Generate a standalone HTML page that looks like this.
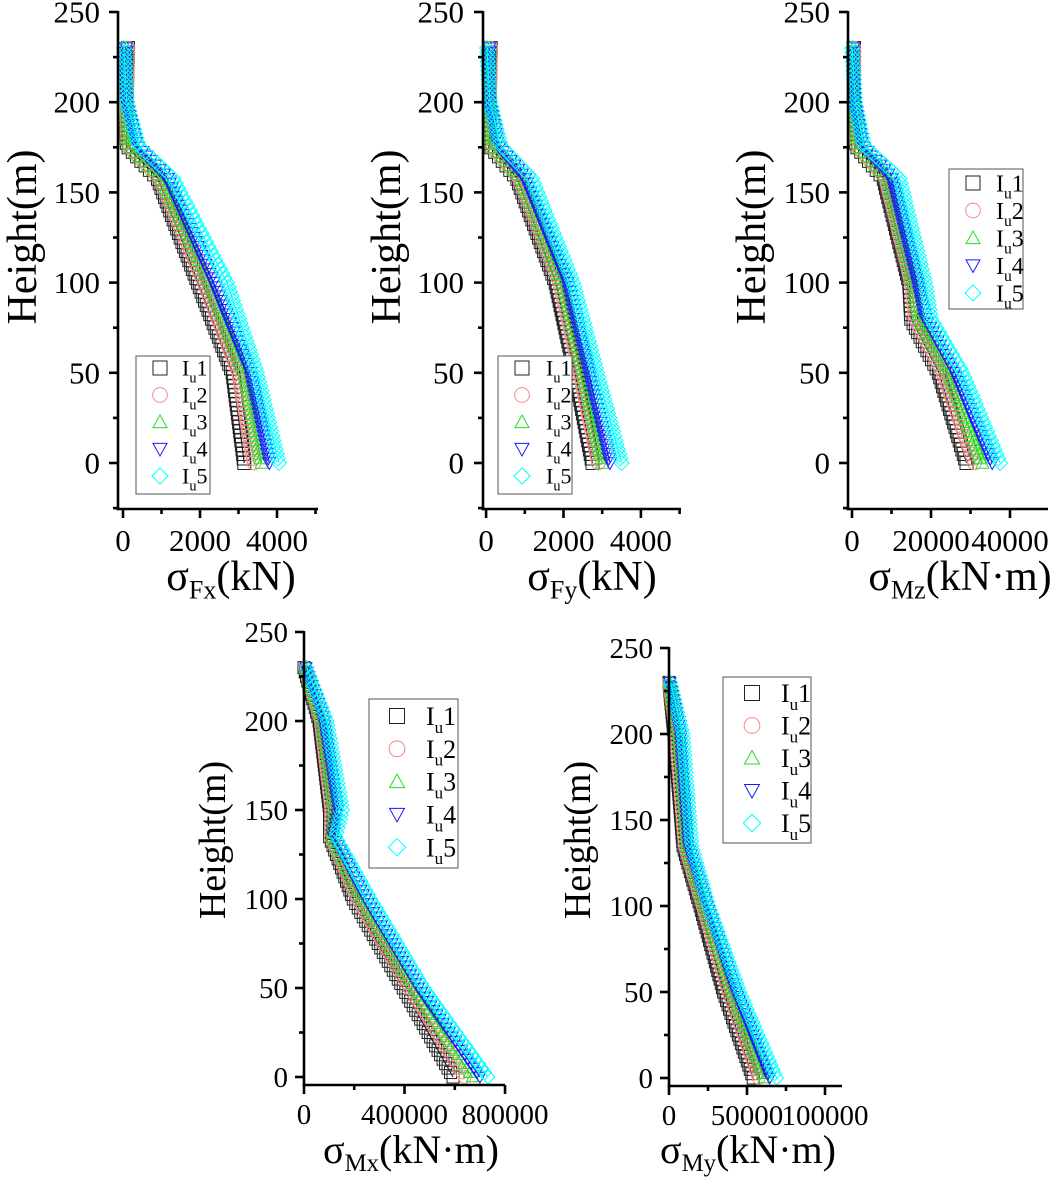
<!DOCTYPE html>
<html><head><meta charset="utf-8"><title>Stdev profiles</title>
<style>
html,body{margin:0;padding:0;background:#fff;}
svg{display:block;font-family:"Liberation Serif",serif;}
</style></head>
<body>
<svg id="fig" width="1052" height="1181" viewBox="0 0 1052 1181" xmlns="http://www.w3.org/2000/svg"></svg>
<script>
// ---- data (heights in m) ----
const seriesNames = ["Iu1","Iu2","Iu3","Iu4","Iu5"];
// Panel 1: sigma Fx (kN)
const fxHeights = [0, 50, 100, 158, 176, 200, 231];
const fxIu1 = [3150, 2850, 1950, 900, 100, 90, 130];
const fxIu2 = [3400, 3000, 2100, 950, 120, 90, 130];
const fxIu3 = [3600, 3150, 2250, 1000, 150, 90, 100];
const fxIu4 = [3800, 3300, 2350, 1150, 350, 90, 80];
const fxIu5 = [4050, 3480, 2700, 1300, 400, 100, 20];
// Panel 2: sigma Fy (kN)
const fyHeights = [0, 50, 100, 158, 176, 200, 231];
const fyIu1 = [2750, 2300, 1800, 800, 100, 90, 120];
const fyIu2 = [2900, 2420, 1900, 850, 120, 90, 120];
const fyIu3 = [3000, 2520, 1980, 900, 150, 90, 100];
const fyIu4 = [3200, 2650, 2100, 1000, 300, 90, 80];
const fyIu5 = [3500, 2870, 2250, 1180, 380, 100, 20];
// Panel 3: sigma Mz (kN·m)
const mzHeights = [0, 50, 80, 100, 158, 176, 200, 231];
const mzIu1 = [29000, 22000, 15000, 14500, 8000, 1000, 500, 500];
const mzIu2 = [31000, 23000, 16000, 15000, 8500, 1200, 500, 500];
const mzIu3 = [33000, 24500, 17000, 15500, 9000, 1500, 500, 300];
const mzIu4 = [35500, 26000, 18500, 16500, 10000, 2500, 600, 300];
const mzIu5 = [37500, 28000, 20000, 18500, 12000, 3000, 800, 0];
// Panel 4: sigma Mx (kN·m)
const mxHeights = [0, 50, 100, 135, 150, 200, 230];
const mxIu1 = [593000, 395000, 196000, 102000, 102000, 60000, 0];
const mxIu2 = [640000, 420000, 212000, 106000, 108000, 66000, 3000];
const mxIu3 = [670000, 438000, 228000, 110000, 118000, 72000, 5000];
const mxIu4 = [700000, 455000, 245000, 116000, 135000, 80000, 8000];
const mxIu5 = [732000, 478000, 266000, 127000, 154000, 92000, 10000];
// Panel 5: sigma My (kN·m)
const myHeights = [0, 50, 100, 135, 200, 230];
const myIu1 = [54000, 35000, 20000, 9000, 3200, 0];
const myIu2 = [57500, 38000, 21500, 10000, 4500, 0];
const myIu3 = [61000, 40500, 23000, 11200, 5800, 300];
const myIu4 = [64500, 43000, 24300, 12500, 7200, 600];
const myIu5 = [69000, 45500, 25600, 14700, 9000, 1000];
// tick label values
const fTicks = [0, 2000, 4000];
const mzTicks = [0, 20000, 40000];
const mxTicks = [0, 400000, 800000];
const myTicks = [0, 50000, 100000];
const hTicks = [0, 50, 100, 150, 200, 250];
</script>
<script>
const NS = "http://www.w3.org/2000/svg";
const svg = document.getElementById("fig");
const colors = ["#222222", "#f28a8a", "#22dd22", "#1a1aff", "#00ffff"];
const shapes = ["square", "circle", "up", "down", "diamond"];

function mk(tag, attrs, parent) {
  const e = document.createElementNS(NS, tag);
  for (const k in attrs) e.setAttribute(k, attrs[k]);
  (parent || svg).appendChild(e);
  return e;
}
function marker(g, shape, x, y, s, col) {
  const h = s / 2;
  let e;
  if (shape === "square") e = mk("rect", {x: x - h, y: y - h, width: s, height: s}, g);
  else if (shape === "circle") e = mk("circle", {cx: x, cy: y, r: h * 1.05}, g);
  else if (shape === "up") e = mk("polygon", {points: `${x},${y - h} ${x + h},${y + h * 0.8} ${x - h},${y + h * 0.8}`}, g);
  else if (shape === "down") e = mk("polygon", {points: `${x},${y + h} ${x + h},${y - h * 0.8} ${x - h},${y - h * 0.8}`}, g);
  else e = mk("polygon", {points: `${x},${y - h * 1.15} ${x + h * 1.15},${y} ${x},${y + h * 1.15} ${x - h * 1.15},${y}`}, g);
  e.setAttribute("fill", "none");
  e.setAttribute("stroke", col);
  e.setAttribute("stroke-width", "1");
  return e;
}
function interp(hs, vs, h) {
  for (let i = 0; i < hs.length - 1; i++) {
    if (h >= hs[i] && h <= hs[i + 1]) {
      const t = (h - hs[i]) / (hs[i + 1] - hs[i]);
      return vs[i] + t * (vs[i + 1] - vs[i]);
    }
  }
  return vs[vs.length - 1];
}

function panel(p) {
  const g = mk("g", {});
  
  
  const X = v => p.L + (v - p.xmin) * p.k;
  const Y = h => p.y0 + (p.y250 - p.y0) * h / 250;
  const yMinVal = (p.y0 - p.yBot) / ((p.y0 - p.y250) / 250);

  for (let s = 0; s < p.series.length; s++) {
    const sg = mk("g", {}, g);
    
    
    const vals = p.series[s];
    const pts = p.heights.map((h, i) => X(vals[i]) + "," + Y(h)).join(" ");
    const ln = mk("polyline", {points: pts, fill: "none", stroke: colors[s], "stroke-width": 1.2}, sg);
    
    
    const hTop = p.heights[p.heights.length - 1];
    for (let h = 0; h <= hTop + 0.01; h += p.step) {
      const m = marker(sg, shapes[s], X(interp(p.heights, vals, h)), Y(h), p.ms, colors[s]);
      
      
    }
  }

  const ax = mk("g", {stroke: "#000", "stroke-width": 2.6, fill: "none"}, g);
  
  
  mk("line", {x1: p.L, y1: Y(250) - 1, x2: p.L, y2: p.yBot + 1.3}, ax);
  mk("line", {x1: p.L - 1.3, y1: p.yBot, x2: p.R, y2: p.yBot}, ax);
  for (let h = -25; h <= 250; h += 25) {
    if (h < yMinVal - 0.5) continue;
    const major = h % 50 === 0;
    mk("line", {x1: p.L, y1: Y(h), x2: p.L - (major ? 9 : 5), y2: Y(h)}, ax);
  }
  p.majorX.forEach(v => mk("line", {x1: X(v), y1: p.yBot, x2: X(v), y2: p.yBot + 9}, ax));
  p.minorX.forEach(v => mk("line", {x1: X(v), y1: p.yBot, x2: X(v), y2: p.yBot + 5}, ax));

  hTicks.forEach(h => {
    const t = mk("text", {x: p.yLabRight, y: Y(h) + p.tf * 0.34, "font-size": p.tf, "text-anchor": "end", fill: "#000"}, g);
    t.textContent = h;
    
    
  });
  p.majorX.forEach(v => {
    const t = mk("text", {x: X(v), y: p.xLabBase, "font-size": p.tf, "text-anchor": "middle", fill: "#000"}, g);
    t.textContent = v;
    
    
  });
  const yt = mk("text", {x: 0, y: 0, "font-size": p.yf, "text-anchor": "middle", fill: "#000",
    transform: `translate(${p.yTitleX},${p.yTitleY}) rotate(-90)`}, g);
  yt.textContent = "Height(m)";
  
  
  const xt = mk("text", {x: p.xTitleX, y: p.xTitleBase, "font-size": p.xf, "text-anchor": "middle", fill: "#000"}, g);
  
  
  const t1 = mk("tspan", {}, xt); t1.textContent = "σ";
  const t2 = mk("tspan", {"font-size": p.xf * 0.62, dy: p.xf * 0.2}, xt); t2.textContent = p.sub;
  const t3 = mk("tspan", {dy: -p.xf * 0.2}, xt); t3.textContent = p.unit;

  const lg = mk("g", {}, g);
  
  
  const lb = p.leg;
  mk("rect", {x: lb.x, y: lb.y, width: lb.w, height: lb.h, fill: "#fff", stroke: "#555", "stroke-width": 1}, lg);
  for (let s = 0; s < 5; s++) {
    const ey = lb.row0 + s * lb.dy;
    const eg = mk("g", {}, lg);
    
    
    marker(eg, shapes[s], lb.mx, ey, lb.ms, colors[s]);
    const t = mk("text", {x: lb.tx, y: ey + lb.f * 0.35, "font-size": lb.f, fill: "#000"}, eg);
    const a = mk("tspan", {}, t); a.textContent = "I";
    const b = mk("tspan", {"font-size": lb.f * 0.65, dy: lb.f * 0.3}, t); b.textContent = "u";
    const c = mk("tspan", {dy: -lb.f * 0.3}, t); c.textContent = String(s + 1);
  }
}

panel({name: "panel-sigma-fx", L: 118, xmin: -130, k: 0.0385, R: 318, y250: 12, y0: 463, yBot: 509,
  heights: fxHeights, series: [fxIu1, fxIu2, fxIu3, fxIu4, fxIu5], step: 2.5, ms: 13,
  majorX: fTicks, minorX: [1000, 3000, 5000], tf: 31, yLabRight: 100, xLabBase: 551,
  yf: 42, yTitleX: 36, yTitleY: 237, xf: 42, xTitleX: 231, xTitleBase: 590, sub: "Fx", unit: "(kN)",
  leg: {x: 136, y: 356, w: 74, h: 138, row0: 368, dy: 27, mx: 160, tx: 182, ms: 14, f: 22}});

panel({name: "panel-sigma-fy", L: 483, xmin: -80, k: 0.0387, R: 681, y250: 12, y0: 463, yBot: 509,
  heights: fyHeights, series: [fyIu1, fyIu2, fyIu3, fyIu4, fyIu5], step: 2.5, ms: 13,
  majorX: fTicks, minorX: [1000, 3000, 5000], tf: 31, yLabRight: 464, xLabBase: 551,
  yf: 42, yTitleX: 400, yTitleY: 237, xf: 42, xTitleX: 592, xTitleBase: 590, sub: "Fy", unit: "(kN)",
  leg: {x: 498, y: 356, w: 74, h: 138, row0: 368, dy: 27, mx: 522, tx: 546, ms: 14, f: 22}});

panel({name: "panel-sigma-mz", L: 848, xmin: -1013, k: 0.00395, R: 1048, y250: 12, y0: 463, yBot: 509,
  heights: mzHeights, series: [mzIu1, mzIu2, mzIu3, mzIu4, mzIu5], step: 2.5, ms: 13,
  majorX: mzTicks, minorX: [10000, 30000], tf: 31, yLabRight: 830, xLabBase: 551,
  yf: 42, yTitleX: 765, yTitleY: 237, xf: 42, xTitleX: 960, xTitleBase: 590, sub: "Mz", unit: "(kN·m)",
  leg: {x: 949, y: 169, w: 74, h: 140, row0: 183, dy: 27.5, mx: 973, tx: 996, ms: 14, f: 24}});

panel({name: "panel-sigma-mx", L: 304, xmin: 0, k: 0.0002513, R: 505, y250: 632, y0: 1077, yBot: 1085,
  heights: mxHeights, series: [mxIu1, mxIu2, mxIu3, mxIu4, mxIu5], step: 2.5, ms: 12,
  majorX: mxTicks, minorX: [200000, 600000], tf: 29, yLabRight: 288, xLabBase: 1124,
  yf: 38, yTitleX: 225, yTitleY: 840, xf: 40, xTitleX: 411, xTitleBase: 1163, sub: "Mx", unit: "(kN·m)",
  leg: {x: 369, y: 699, w: 89, h: 169, row0: 716, dy: 32.8, mx: 397, tx: 426, ms: 15, f: 26}});

panel({name: "panel-sigma-my", L: 669, xmin: 0, k: 0.00156, R: 842, y250: 648, y0: 1078, yBot: 1086,
  heights: myHeights, series: [myIu1, myIu2, myIu3, myIu4, myIu5], step: 2.5, ms: 12,
  majorX: myTicks, minorX: [25000, 75000], tf: 29, yLabRight: 653, xLabBase: 1125,
  yf: 38, yTitleX: 590, yTitleY: 840, xf: 40, xTitleX: 748, xTitleBase: 1163, sub: "My", unit: "(kN·m)",
  leg: {x: 723, y: 677, w: 88, h: 166, row0: 693, dy: 32.5, mx: 752, tx: 781, ms: 15, f: 26}});
</script>
</body></html>
